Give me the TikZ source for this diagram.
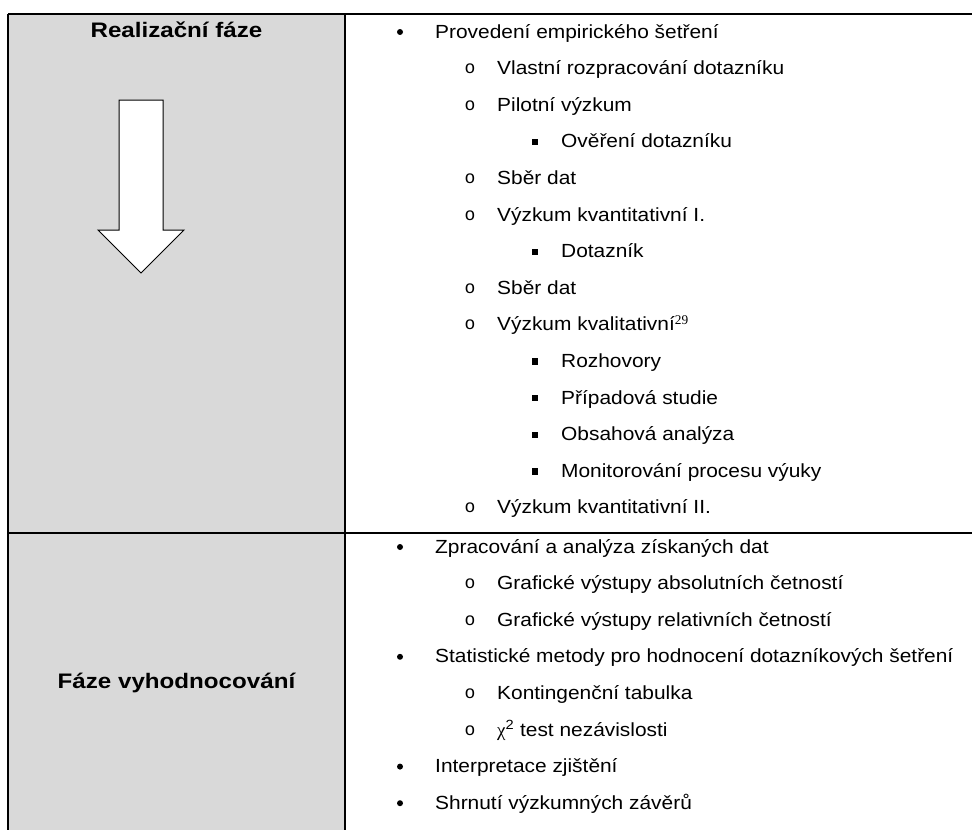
\documentclass[tikz,border=0pt]{standalone}
\usepackage{fontspec}
\setmainfont{Liberation Sans}[FakeStretch=1.1]
\newfontfamily\titlefont{Liberation Sans}[FakeStretch=1.15]
\newfontfamily\serifnum{Liberation Serif}
\newfontfamily\monomark{Liberation Mono}
\definecolor{cellgray}{RGB}{217,217,217}

\tikzset{
  item/.style={anchor=base west, inner sep=0pt, font=\fontsize{19}{22}\selectfont},
  phase/.style={anchor=base, inner sep=0pt, font=\titlefont\fontsize{21}{24}\selectfont\bfseries},
  dotmark/.style={circle, fill, inner sep=0pt, minimum size=6pt},
  ringmark/.style={inner sep=0pt, font=\fontsize{18}{18}\selectfont\monomark},
  squaremark/.style={rectangle, fill, inner sep=0pt, minimum width=5.5pt, minimum height=6.5pt},
  rule/.style={line width=1.5pt}
}

\begin{document}
\begin{tikzpicture}[x=1pt, y=-1pt]
  \useasboundingbox (0,0) rectangle (972,830);

  % grey phase column
  \fill[cellgray] (8,14) rectangle (345,830);

  % table rules
  \draw[rule] (8,14) -- (972,14);
  \draw[rule] (8,533) -- (972,533);
  \draw[rule] (8,14) -- (8,830);
  \draw[rule] (345,14) -- (345,830);

  % phase titles
  \node[phase] (real) at (176.5,37) {Realizační fáze};
  \node[phase] (eval) at (176.5,688) {Fáze vyhodnocování};

  % down arrow
  \draw[fill=white, line width=1pt, line join=miter]
    (119,100) -- (163,100) -- (163,230) -- (184,230) -- (141,273)
    -- (98,230) -- (119,230) -- cycle;

  % first phase
  \node[dotmark] (b1) at (400,32) {};
  \node[item] (t1) at (435,38) {Provedení empirického šetření};
  \node[ringmark] (b2) at (470,69) {o};
  \node[item] (t2) at (497,74.6) {Vlastní rozpracování dotazníku};
  \node[ringmark] (b3) at (470,105.6) {o};
  \node[item] (t3) at (497,111.2) {Pilotní výzkum};
  \node[squaremark] (b4) at (535,142) {};
  \node[item] (t4) at (561,147.8) {Ověření dotazníku};
  \node[ringmark] (b5) at (470,178.8) {o};
  \node[item] (t5) at (497,184.4) {Sběr dat};
  \node[ringmark] (b6) at (470,215.4) {o};
  \node[item] (t6) at (497,221) {Výzkum kvantitativní I.};
  \node[squaremark] (b7) at (535,251.8) {};
  \node[item] (t7) at (561,257.6) {Dotazník};
  \node[ringmark] (b8) at (470,288.6) {o};
  \node[item] (t8) at (497,294.2) {Sběr dat};
  \node[ringmark] (b9) at (470,325.2) {o};
  \node[item] (t9) at (497,330.8) {Výzkum kvalitativní\textsuperscript{\serifnum 29}};
  \node[squaremark] (b10) at (535,361.6) {};
  \node[item] (t10) at (561,367.4) {Rozhovory};
  \node[squaremark] (b11) at (535,398.2) {};
  \node[item] (t11) at (561,404) {Případová studie};
  \node[squaremark] (b12) at (535,434.8) {};
  \node[item] (t12) at (561,440.6) {Obsahová analýza};
  \node[squaremark] (b13) at (535,471.4) {};
  \node[item] (t13) at (561,477.2) {Monitorování procesu výuky};
  \node[ringmark] (b14) at (470,508.2) {o};
  \node[item] (t14) at (497,513.8) {Výzkum kvantitativní II.};

  % second phase
  \node[dotmark] (b15) at (400,547) {};
  \node[item] (t15) at (435,553) {Zpracování a analýza získaných dat};
  \node[ringmark] (b16) at (470,584) {o};
  \node[item] (t16) at (497,589.6) {Grafické výstupy absolutních četností};
  \node[ringmark] (b17) at (470,620.6) {o};
  \node[item] (t17) at (497,626.2) {Grafické výstupy relativních četností};
  \node[dotmark] (b18) at (400,656.8) {};
  \node[item] (t18) at (435,662.8) {Statistické metody pro hodnocení dotazníkových šetření};
  \node[ringmark] (b19) at (470,693.8) {o};
  \node[item] (t19) at (497,699.4) {Kontingenční tabulka};
  \node[ringmark] (b20) at (470,730.4) {o};
  \node[item] (t20) at (497,736) {{\serifnum χ}\textsuperscript{2} test nezávislosti};
  \node[dotmark] (b21) at (400,766.6) {};
  \node[item] (t21) at (435,772.6) {Interpretace zjištění};
  \node[dotmark] (b22) at (400,803.2) {};
  \node[item] (t22) at (435,809.2) {Shrnutí výzkumných závěrů};
\end{tikzpicture}
\end{document}
